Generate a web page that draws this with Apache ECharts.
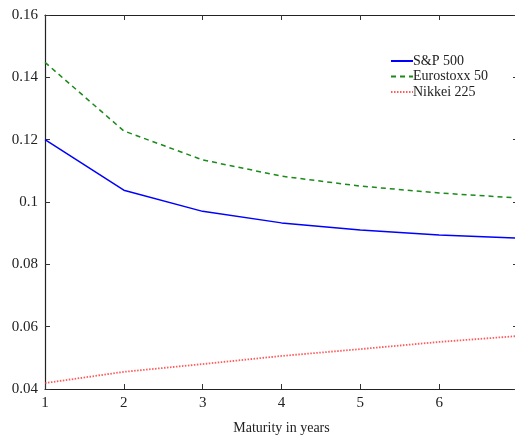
<!DOCTYPE html>
<html><head><meta charset="utf-8">
<script src="https://cdn.jsdelivr.net/npm/echarts@6/dist/echarts.min.js"></script>
<style>html,body{margin:0;padding:0;background:#fff;overflow:hidden}#c{width:515px;height:437px}</style>
</head><body><div id="c"></div>
<script>
const maturities = [1, 2, 3, 4, 5, 6, 7];
const sp500 = [0.1200, 0.1038, 0.0970, 0.0933, 0.0910, 0.0894, 0.0884];
const eurostoxx = [0.1448, 0.1228, 0.1135, 0.1083, 0.1051, 0.1029, 0.1013];
const nikkei = [0.0419, 0.0455, 0.0480, 0.0506, 0.0528, 0.0551, 0.0570];
const yTicks = [0.04, 0.06, 0.08, 0.1, 0.12, 0.14, 0.16];
const xTitle = 'Maturity in years';

const font = 'Liberation Serif, DejaVu Serif, serif';
const pair = (xs, ys) => xs.map((x, i) => [x, ys[i]]);
const axisCommon = {
  axisLine: {show: true, lineStyle: {color: '#222', width: 1.2}},
  axisTick: {show: true, inside: true, length: 5, lineStyle: {color: '#333'}},
  splitLine: {show: false}
};
const chart = echarts.init(document.getElementById('c'));
chart.setOption({
  animation: false,
  textStyle: {fontFamily: font},
  grid: {left: 45, top: 15, right: -3, bottom: 48, outerBoundsMode: 'none', containLabel: false},
  legend: {
    left: 385, top: 49, orient: 'vertical', itemWidth: 22, itemHeight: 14, itemGap: 1.5,
    itemStyle: {opacity: 0},
    textStyle: {fontFamily: font, fontSize: 14, color: '#222', padding: [0, 0, 0, -5]},
    data: ['S&P 500', 'Eurostoxx 50', 'Nikkei 225']
  },
  xAxis: [
    Object.assign({type: 'value', min: 1, max: 7, interval: 1, position: 'bottom',
      name: xTitle, nameLocation: 'middle', nameGap: 32,
      nameTextStyle: {fontFamily: font, fontSize: 14, color: '#222'},
      axisLabel: {fontFamily: font, fontSize: 15, color: '#222', margin: 7,
        formatter: v => (v === 7 ? '' : String(v))}}, axisCommon),
    Object.assign({type: 'value', min: 1, max: 7, interval: 1, position: 'top',
      axisLabel: {show: false}}, axisCommon)
  ],
  yAxis: [
    Object.assign({type: 'value', min: 0.04, max: 0.16, interval: 0.02, position: 'left',
      axisLabel: {fontFamily: font, fontSize: 15, color: '#222', margin: 7,
        formatter: v => yTicks.find(t => Math.abs(t - v) < 1e-9) !== undefined ? String(+v.toFixed(2)) : ''}}, axisCommon),
    Object.assign({type: 'value', min: 0.04, max: 0.16, interval: 0.02, position: 'right',
      axisLabel: {show: false}}, axisCommon)
  ],
  series: [
    {name: 'S&P 500', type: 'line', data: pair(maturities, sp500), symbol: 'none',
      lineStyle: {color: '#0000ff', width: 1.5}, itemStyle: {color: '#0000ff'}},
    {name: 'Eurostoxx 50', type: 'line', data: pair(maturities, eurostoxx), symbol: 'none',
      lineStyle: {color: '#1a8a1a', width: 1.5, type: [5, 4]}, itemStyle: {color: '#1a8a1a'}},
    {name: 'Nikkei 225', type: 'line', data: pair(maturities, nikkei), symbol: 'none',
      lineStyle: {color: '#ff3030', width: 1.8, type: [1.5, 1.5], opacity: 0.8}, itemStyle: {color: '#ff3030'}}
  ]
});
</script></body></html>
